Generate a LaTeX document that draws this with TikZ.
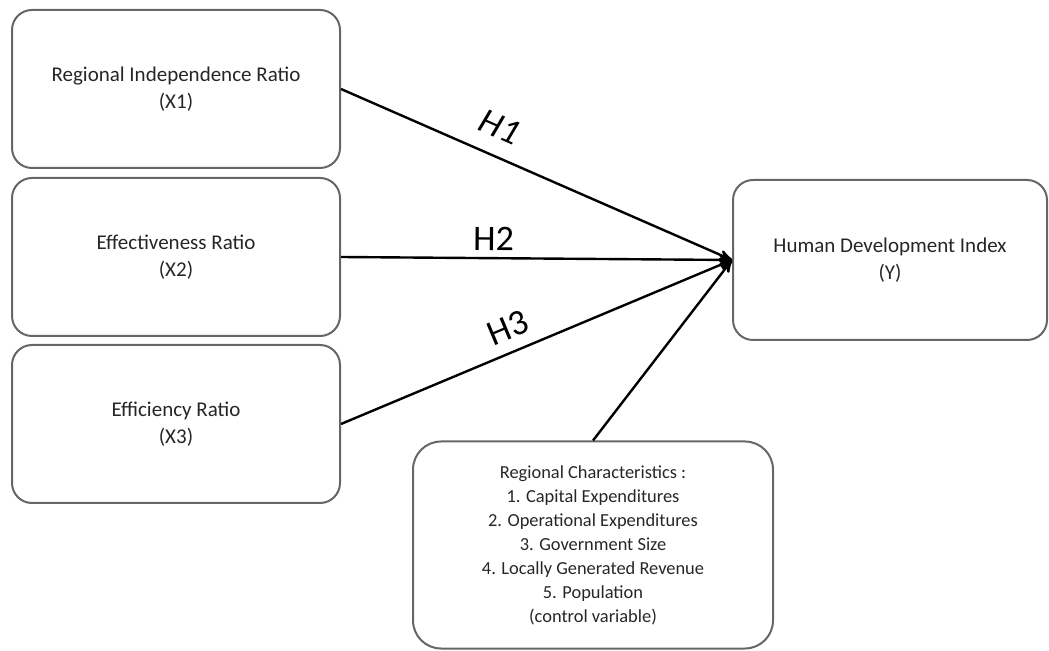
\documentclass[tikz,border=0pt]{standalone}
\usepackage{fontspec}
\setmainfont{Carlito}
\usetikzlibrary{arrows,positioning}

\begin{document}
\begin{tikzpicture}[x=0.5pt,y=-0.5pt,->,>=stealth',shorten >=0pt,semithick]
  \tikzstyle{varbox}=[draw=black!60,line width=1pt,rounded corners=10pt,minimum width=164pt,minimum height=79pt,align=center,text=black!85,font=\fontsize{10.5}{13.5}\selectfont]
  \tikzstyle{ctrlbox}=[varbox,rounded corners=14pt,minimum width=180pt,minimum height=103.5pt,font=\fontsize{9.2}{12}\selectfont]
  \tikzstyle{hyp}=[text=black,inner sep=0pt,sloped,font=\fontsize{18}{20}\selectfont]
  \useasboundingbox (0,0) rectangle (1049,651);

  \node[varbox] (X1) at (176,89) {Regional Independence Ratio\\(X1)};
  \node[varbox] (X2) [below=4pt of X1] {Effectiveness Ratio\\(X2)};
  \node[varbox] (X3) [below=3.5pt of X2] {Efficiency Ratio\\(X3)};
  \node[varbox,minimum width=157pt,minimum height=80pt] (Y) at (890,260) {Human Development Index\\(Y)};
  \node[ctrlbox] (C) at (593,545) {Regional Characteristics :\\1. Capital Expenditures\\2. Operational Expenditures\\3. Government Size\\4. Locally Generated Revenue\\5. Population\\(control variable)};

  \path[line width=1.2pt]
    (X1.east) edge node[hyp,pos=0.377,above=8pt,font=\fontsize{18}{20}\selectfont\itshape] {H1} (Y.west)
    (X2.east) edge node[hyp,pos=0.39,above=3pt] {H2} (Y.west)
    (X3.east) edge node[hyp,pos=0.45,above=5.5pt] {H3} (Y.west)
    (C.north) edge (Y.west);
\end{tikzpicture}
\end{document}
